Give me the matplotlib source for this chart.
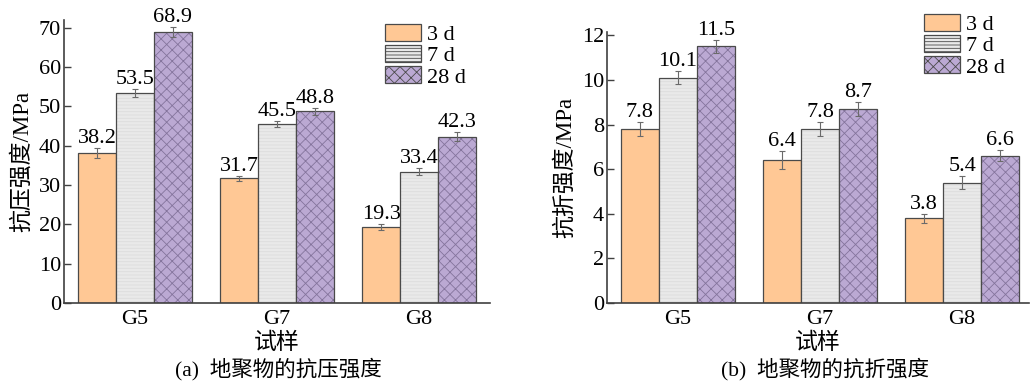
import matplotlib
matplotlib.use("Agg")
import matplotlib.pyplot as plt
import numpy as np
from matplotlib.patches import Patch

# 字体: 数字用 Times 类衬线体, 中文用思源黑体
plt.rcParams['font.family'] = ['Liberation Serif', 'Noto Sans CJK SC']
plt.rcParams['axes.unicode_minus'] = False
plt.rcParams['hatch.linewidth'] = 0.6

samples = ["G5", "G7", "G8"]
ages = ["3 d", "7 d", "28 d"]

# 抗压强度 (MPa) 及误差
comp = [[38.2, 31.7, 19.3],
        [53.5, 45.5, 33.4],
        [68.9, 48.8, 42.3]]
comp_err = [[1.2, 0.7, 0.8],
            [1.0, 0.8, 0.9],
            [1.2, 0.9, 1.2]]

# 抗折强度 (MPa) 及误差
flex = [[7.8, 6.4, 3.8],
        [10.1, 7.8, 5.4],
        [11.5, 8.7, 6.6]]
flex_err = [[0.3, 0.4, 0.2],
            [0.3, 0.3, 0.3],
            [0.3, 0.3, 0.25]]

face = ["#FFC895", "#E9E9E9", "#BBA9D3"]
hatch_col = ["#FFC895", "#DCDCDC", "#84749C"]
hatches = [None, "-----", "xxx"]
edge = "#4A4A4A"
fs = 16

fig = plt.figure(figsize=(10.3, 3.85), dpi=100)
ax1 = fig.add_axes([0.0621, 0.213, 0.4136, 0.735])
ax2 = fig.add_axes([0.589, 0.213, 0.410, 0.704])


def draw(ax, data, err, ylim, yticks, ylabel):
    x = np.arange(len(samples))
    w = 0.8 / 3
    for i in range(3):
        pos = x + (i - 1) * w
        # 先画填充和花纹, 再画外框
        ax.bar(pos, data[i], w, color=face[i], hatch=hatches[i],
               edgecolor=hatch_col[i], linewidth=0)
        bc = ax.bar(pos, data[i], w, fill=False, edgecolor=edge, linewidth=0.9,
                    yerr=err[i], error_kw=dict(ecolor="#6A6A6A", elinewidth=0.8,
                                               capsize=2.2, capthick=0.8))
        ax.bar_label(bc, labels=[f"{v:.1f}" for v in data[i]], padding=0, fontsize=fs)
    ax.set_xlim(-0.5, 2.5)
    ax.set_ylim(*ylim)
    ax.set_yticks(yticks)
    ax.set_xticks(x)
    ax.set_xticklabels(samples)
    ax.tick_params(axis='y', direction='in', length=5, width=1, pad=2,
                   labelsize=fs, color="#404040")
    ax.tick_params(axis='x', length=0, pad=5, labelsize=fs)
    for s in ["top", "right"]:
        ax.spines[s].set_visible(False)
    for s in ["left", "bottom"]:
        ax.spines[s].set_color("#404040")
        ax.spines[s].set_linewidth(1.2)
    ax.set_ylabel(ylabel, fontsize=16.5, labelpad=4)
    ax.set_xlabel("试样", fontsize=16.5, labelpad=3)


draw(ax1, comp, comp_err, (0, 72), range(0, 71, 10), "抗压强度/MPa")
draw(ax2, flex, flex_err, (0, 12.15), range(0, 13, 2), "抗折强度/MPa")
ax2.set_xlim(-0.5, 2.47)

# 图例 (用矩形色块)
handles = [Patch(facecolor=face[i], edgecolor=edge, hatch=hatches[i], linewidth=0.9)
           for i in range(3)]
leg_kw = dict(frameon=False, fontsize=fs, handlelength=1.6, handleheight=0.8,
              labelspacing=0.0, handletextpad=0.3, borderaxespad=0, borderpad=0)
fig.legend(handles, ages, loc="upper left", bbox_to_anchor=(385 / 1030, 1 - 24 / 385), **leg_kw)
fig.legend(handles, ages, loc="upper left", bbox_to_anchor=(924 / 1030, 1 - 14 / 385), **leg_kw)

fig.text(0.270, 0.024, "(a)  地聚物的抗压强度", ha="center", fontsize=15.5)
fig.text(0.801, 0.024, "(b)  地聚物的抗折强度", ha="center", fontsize=15.5)

fig.savefig("out.png", dpi=100)
